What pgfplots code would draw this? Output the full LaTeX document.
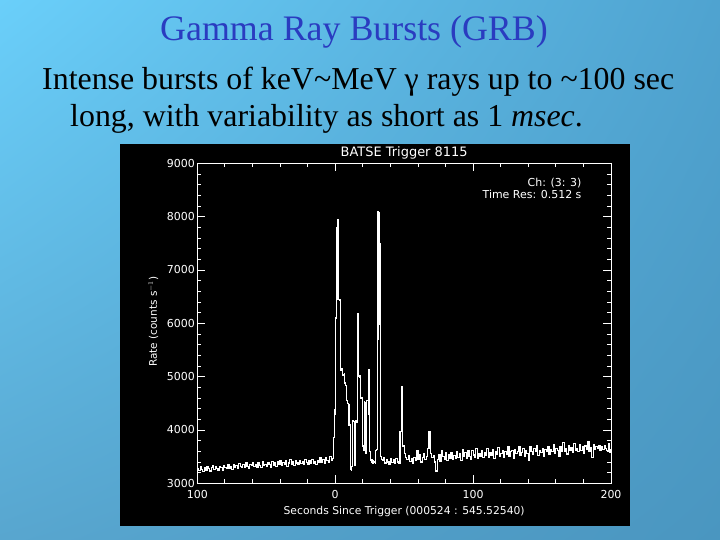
\documentclass[border=0pt]{standalone}
\usepackage{pgfplots}
\pgfplotsset{compat=1.18}
\usetikzlibrary{shadings}
\usepackage{fontspec}
\setmainfont{Liberation Serif}
\newfontfamily\chartfont{DejaVu Sans}
\definecolor{bgUL}{RGB}{106,207,250}
\definecolor{bgUR}{RGB}{79,163,208}
\definecolor{bgLL}{RGB}{88,166,207}
\definecolor{bgLR}{RGB}{74,150,192}
\definecolor{titleblue}{RGB}{42,60,192}
\begin{document}
\begin{tikzpicture}[x=1bp,y=1bp]
\useasboundingbox (0,0) rectangle (720,540);
\shade[upper left=bgUL, upper right=bgUR, lower left=bgLL, lower right=bgLR] (0,0) rectangle (720,540);
\node[anchor=base, text=titleblue, font=\fontsize{36}{40}\selectfont, inner sep=0pt] at (354,499) {Gamma Ray Bursts (GRB)};
\node[anchor=base west, font=\fontsize{32}{38}\selectfont, inner sep=0pt] at (42,450) {Intense bursts of keV\textasciitilde MeV γ rays up to \textasciitilde 100 sec};
\node[anchor=base west, font=\fontsize{32}{38}\selectfont, inner sep=0pt] at (70,413) {long, with variability as short as 1 \textit{msec}.};
\fill[black] (120,14.3) rectangle (630,396);
\begin{axis}[
  at={(197.3bp,56.7bp)}, anchor=south west, scale only axis,
  width=413.7bp, height=320bp,
  xmin=-100, xmax=200, ymin=3000, ymax=9000,
  axis line style={white, line width=0.8bp},
  xtick={-100,0,100,200}, xticklabels={100,0,100,200},
  ytick={3000,4000,5000,6000,7000,8000,9000},
  yticklabels={3000,4000,5000,6000,7000,8000,9000},
  minor x tick num=4, minor y tick num=4,
  tick align=inside, major tick length=8bp, minor tick length=4bp,
  tick style={white, line width=0.8bp},
  xtick pos=both, ytick pos=both,
  /pgf/number format/assume math mode=true,
  tick label style={font=\chartfont\fontsize{11}{13}\selectfont, text=white},
  xticklabel style={yshift=-4bp},
  yticklabel style={xshift=1bp},
  every axis title shift=0pt,
  title={BATSE Trigger 8115},
  title style={font=\chartfont\fontsize{13}{15}\selectfont, text=white, at={(axis description cs:0.5,1.031)}, anchor=center},
  xlabel={Seconds Since Trigger (000524 : 545.52540)},
  xlabel style={font=\chartfont\fontsize{10.8}{12}\selectfont, text=white, at={(axis description cs:0.5,-0.0875)}, anchor=center},
  ylabel={Rate (counts s$^{-1}$)},
  ylabel style={font=\chartfont\fontsize{10.5}{12}\selectfont, text=white, at={(axis description cs:-0.1064,0.505)}, anchor=center},
]
\addplot[white, line width=1.1bp, const plot mark left] coordinates {
(-100,3280)(-99,3240)(-98,3310)(-97,3260)(-96,3220)(-95,3290)(-94,3250)(-93,3320)(-92,3270)(-91,3230)
(-90,3300)(-89,3340)(-88,3260)(-87,3310)(-86,3280)(-85,3240)(-84,3320)(-83,3290)(-82,3250)(-81,3340)
(-80,3300)(-79,3270)(-78,3350)(-77,3280)(-76,3320)(-75,3260)(-74,3360)(-73,3300)(-72,3340)(-71,3280)
(-70,3370)(-69,3310)(-68,3290)(-67,3350)(-66,3300)(-65,3380)(-64,3320)(-63,3280)(-62,3360)(-61,3330)
(-60,3390)(-59,3310)(-58,3350)(-57,3290)(-56,3380)(-55,3340)(-54,3300)(-53,3400)(-52,3330)(-51,3360)
(-50,3310)(-49,3390)(-48,3350)(-47,3300)(-46,3410)(-45,3340)(-44,3380)(-43,3320)(-42,3400)(-41,3360)
(-40,3430)(-39,3340)(-38,3390)(-37,3350)(-36,3420)(-35,3310)(-34,3380)(-33,3440)(-32,3360)(-31,3400)
(-30,3340)(-29,3420)(-28,3380)(-27,3350)(-26,3430)(-25,3370)(-24,3410)(-23,3360)(-22,3440)(-21,3390)
(-20,3350)(-19,3420)(-18,3380)(-17,3450)(-16,3370)(-15,3410)(-14,3360)(-13,3430)(-12,3400)(-11,3480)
(-10,3390)(-9,3440)(-8,3380)(-7,3490)(-6,3420)(-5,3400)(-4,3500)(-3,3430)(-2,3460)
(-1.5,3800)(-1,3860)(-0.5,4380)(0,4300)(0.5,6100)(1,7800)(1.5,7950)(2,6450)(2.5,6450)(3,6420)(3.5,6440)
(4,5120)(4.5,5150)(5,5100)(5.5,5030)(6,5030)(6.5,5060)(7,4880)(7.5,4840)(8,4600)(8.5,4560)(9,4500)
(9.5,4480)(10,4090)(10.5,4100)(11,3260)(11.5,3250)(12,3320)(12.5,4170)(13,4170)(13.5,4160)(14,3340)
(14.5,3380)(15,4170)(15.5,4150)(16,6190)(16.5,6150)(17,5000)(17.5,5020)(18,4980)(18.5,4590)(19,4600)
(19.5,3940)(20,3700)(20.5,3620)(21,4530)(21.5,4520)(22,3560)(22.5,3650)(23,4560)(23.5,4550)(24,5140)
(24.5,4300)(25,3600)(25.5,3420)(26,3400)(26.5,3450)(27,3380)(27.5,3420)(28,3390)(28.5,3410)(29,3380)
(29.5,3620)(30,3630)(30.5,5690)(31,8090)(31.5,8080)(32,7500)(32.5,5970)(33,3500)(33.5,3450)
(34,3420)(35,3480)(36,3380)(37,3450)(38,3400)(39,3360)(40,3470)(41,3390)(42,3440)(43,3380)
(44,3460)(45,3400)(46,3370)(47,3970)(48,4810)(49,3700)(50,3560)(51,3480)(52,3440)(53,3520)
(54,3410)(55,3460)(56,3380)(57,3490)(58,3420)(59,3610)(60,3450)(61,3530)(62,3400)(63,3480)
(64,3560)(65,3440)(66,3510)(67,3650)(68,3970)(69,3560)(70,3480)(71,3520)(72,3400)(73,3230)
(74,3450)(75,3530)(76,3410)(77,3620)(78,3500)(79,3450)(80,3570)(81,3420)(82,3540)(83,3470)
(84,3580)(85,3440)(86,3520)(87,3460)(88,3600)(89,3480)(90,3550)(91,3430)(92,3640)(93,3510)
(94,3570)(95,3460)(96,3620)(97,3500)(98,3440)(99,3610)(100,3530)(101,3480)(102,3650)(103,3470)
(104,3560)(105,3500)(106,3620)(107,3480)(108,3570)(109,3530)(110,3660)(111,3490)(112,3580)(113,3520)
(114,3640)(115,3460)(116,3590)(117,3540)(118,3670)(119,3510)(120,3560)(121,3620)(122,3480)(123,3600)
(124,3550)(125,3680)(126,3500)(127,3590)(128,3620)(129,3470)(130,3640)(131,3560)(132,3600)(133,3690)
(134,3520)(135,3580)(136,3650)(137,3500)(138,3620)(139,3560)(140,3430)(141,3680)(142,3590)(143,3540)
(144,3650)(145,3600)(146,3700)(147,3520)(148,3610)(149,3570)(150,3660)(151,3500)(152,3630)(153,3590)
(154,3690)(155,3540)(156,3640)(157,3600)(158,3720)(159,3560)(160,3650)(161,3610)(162,3510)(163,3680)
(164,3590)(165,3760)(166,3600)(167,3650)(168,3550)(169,3700)(170,3620)(171,3670)(172,3580)(173,3740)
(174,3610)(175,3660)(176,3590)(177,3730)(178,3620)(179,3680)(180,3560)(181,3700)(182,3640)(183,3780)
(184,3600)(185,3670)(186,3480)(187,3720)(188,3630)(189,3690)(190,3650)(191,3710)(192,3620)(193,3680)
(194,3640)(195,3700)(196,3660)(197,3620)(198,3750)(199,3580)(200,3650)
};
\node[anchor=east, text=white, font=\chartfont\fontsize{11}{13}\selectfont, inner sep=0pt] at (axis description cs:0.929,0.939) {Ch: (3: 3)};
\node[anchor=east, text=white, font=\chartfont\fontsize{11}{13}\selectfont, inner sep=0pt] at (axis description cs:0.929,0.903) {Time Res: 0.512 s};
\end{axis}
\end{tikzpicture}
\end{document}
